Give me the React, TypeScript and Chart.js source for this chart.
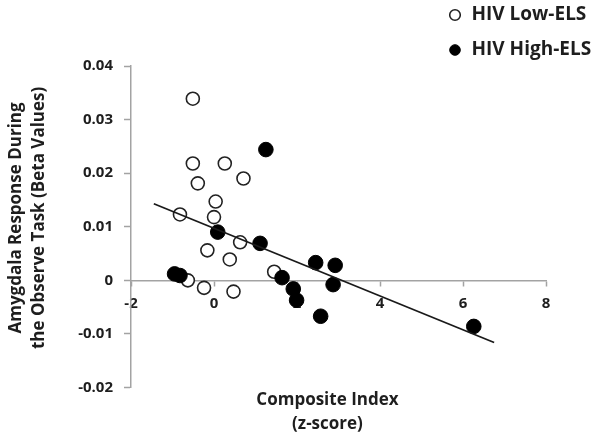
import React, { useEffect, useRef } from 'react';
import { Chart, registerables } from 'chart.js';

Chart.register(...registerables);

const lowLabel = 'HIV Low-ELS';
const highLabel = 'HIV High-ELS';

const lowX = [-0.51, -0.51, 0.26, -0.39, 0.71, 0.04, -0.82, 0.0, 0.63, -0.16, 0.38, 1.45, -0.63, -0.24, 0.47];
const lowY = [0.0339, 0.0218, 0.0218, 0.0181, 0.019, 0.0147, 0.0123, 0.0118, 0.0071, 0.0056, 0.0039, 0.0016, 0.0, -0.0014, -0.0021];

const highX = [1.25, 0.09, 1.11, -0.95, -0.82, 1.64, 1.91, 1.99, 2.45, 2.92, 2.87, 2.57, 6.26];
const highY = [0.0244, 0.009, 0.0069, 0.0012, 0.0009, 0.0005, -0.0016, -0.0037, 0.0033, 0.0028, -0.0008, -0.0067, -0.0086];

const trendX = [-1.45, 6.75];
const trendY = [0.0143, -0.0116];

const xTicks = [-2, 0, 2, 4, 6, 8];
const xTickLabels = ['-2', '0', '2', '4', '6', '8'];
const yTicks = [-0.02, -0.01, 0, 0.01, 0.02, 0.03, 0.04];
const yTickLabels = ['-0.02', '-0.01', '0', '0.01', '0.02', '0.03', '0.04'];

const xTitle = ['Composite Index', '(z-score)'];
const yTitle = ['Amygdala Response During', 'the Observe Task (Beta Values)'];

const FONT = "'Open Sans', 'DejaVu Sans', sans-serif";
const TEXT = '#1e1e1e';
const AXIS = '#a3a3a3';

const labelFor = (ticks: number[], labels: string[]) => (v: any) => {
  const i = ticks.findIndex((t) => Math.abs(t - Number(v)) < 1e-9);
  return i >= 0 ? labels[i] : '';
};

const legendMover = {
  id: 'legendMover',
  afterLayout(chart: any) {
    const lg = chart.legend;
    if (!lg) return;
    const w = lg.width;
    lg.left = 432;
    lg.top = -10.5;
    lg.right = lg.left + w;
    lg.height = 200;
    lg.bottom = lg.top + 200;
  },
};

export default function App() {
  const ref = useRef<HTMLCanvasElement | null>(null);

  useEffect(() => {
    if (!ref.current) return;
    const chart = new Chart(ref.current, {
      type: 'scatter',
      data: {
        datasets: [
          {
            label: lowLabel,
            data: lowX.map((x, i) => ({ x, y: lowY[i] })),
            backgroundColor: '#ffffff',
            borderColor: '#222222',
            borderWidth: 1.6,
            pointRadius: 6.5,
            order: 2,
            xAxisID: 'x',
            yAxisID: 'y',
          },
          {
            label: highLabel,
            data: highX.map((x, i) => ({ x, y: highY[i] })),
            backgroundColor: '#000000',
            borderColor: '#000000',
            borderWidth: 1,
            pointRadius: 7.3,
            order: 1,
            xAxisID: 'x',
            yAxisID: 'y',
          },
          {
            type: 'line',
            label: 'trend',
            data: trendX.map((x, i) => ({ x, y: trendY[i] })),
            borderColor: '#1a1a1a',
            borderWidth: 1.8,
            pointRadius: 0,
            showLine: true,
            fill: false,
            order: 0,
            xAxisID: 'x',
            yAxisID: 'y',
          } as any,
        ],
      },
      options: {
        animation: false,
        responsive: false,
        layout: { padding: { top: 66, right: 56, bottom: 0, left: 0 } },
        plugins: {
          legend: {
            position: 'chartArea' as any,
            align: 'start',
            labels: {
              usePointStyle: true,
              boxWidth: 14,
              boxHeight: 7.5,
              padding: 16,
              color: TEXT,
              font: { family: FONT, size: 19, weight: 'bold' },
              filter: (item: any) => item.datasetIndex < 2,
              sort: (a: any, b: any) => a.datasetIndex - b.datasetIndex,
            },
          },
          tooltip: { enabled: false },
        },
        scales: {
          x: {
            type: 'linear',
            position: { y: 0 } as any,
            min: -2,
            max: 8,
            afterBuildTicks: (s: any) => {
              s.ticks = xTicks.map((value) => ({ value }));
            },
            ticks: {
              callback: labelFor(xTicks, xTickLabels),
              color: TEXT,
              font: { family: FONT, size: 15, weight: 'bold' },
              padding: 9.5,
              maxRotation: 0,
              autoSkip: false,
            },
            grid: {
              display: true,
              drawOnChartArea: false,
              drawTicks: true,
              tickLength: 5,
              tickColor: AXIS,
              tickWidth: 1.5,
            },
            border: { display: true, color: AXIS, width: 1.5 },
            title: { display: false },
          },
          x2: {
            type: 'linear',
            position: 'bottom',
            min: -2,
            max: 8,
            ticks: { display: false },
            grid: { display: false },
            border: { display: false },
            title: {
              display: true,
              text: xTitle.map((s) => s + '     '),
              color: TEXT,
              font: { family: FONT, size: 17, weight: 'bold', lineHeight: '24px' },
              padding: { top: 0, bottom: 3 },
            },
            afterFit: (s: any) => {
              s.height = 51.5;
            },
          },
          y: {
            type: 'linear',
            position: 'left',
            min: -0.02,
            max: 0.04,
            afterBuildTicks: (s: any) => {
              s.ticks = yTicks.map((value) => ({ value }));
            },
            ticks: {
              callback: labelFor(yTicks, yTickLabels),
              color: TEXT,
              font: { family: FONT, size: 15, weight: 'bold' },
              padding: 11,
              autoSkip: false,
            },
            grid: {
              display: true,
              drawOnChartArea: false,
              drawTicks: true,
              tickLength: 7,
              tickColor: AXIS,
              tickWidth: 1.5,
            },
            border: { display: true, color: AXIS, width: 1.5 },
            title: {
              display: true,
              text: yTitle.map((s) => '    ' + s),
              color: TEXT,
              font: { family: FONT, size: 17, weight: 'bold', lineHeight: '23px' },
              padding: { top: 5, bottom: 0 },
            },
            afterFit: (s: any) => {
              s.width = 131;
            },
          },
        },
      } as any,
      plugins: [legendMover],
    });
    return () => chart.destroy();
  }, []);

  return (
    <div style={{ position: 'absolute', left: 0, top: 0, width: 602, height: 439, background: '#fff' }}>
      <canvas ref={ref} width={602} height={439} style={{ display: 'block' }} />
    </div>
  );
}
